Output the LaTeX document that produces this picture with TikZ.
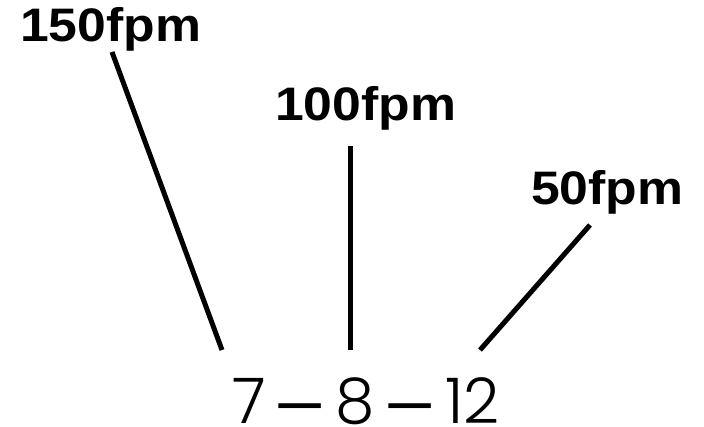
\documentclass[tikz,border=0pt]{standalone}
\usepackage{fontspec}
\setmainfont{Liberation Sans}
\newfontfamily\popfont{Poppins Light}
\newcommand{\wdash}{\raisebox{-13pt}{\scalebox{1.3}[1.3]{–}}}
\tikzset{
  lbl/.style={inner sep=0pt, anchor=base west, font=\bfseries\fontsize{47}{50}\selectfont},
  nums/.style={inner sep=0pt, anchor=base, font=\popfont\fontsize{63}{70}\selectfont},
  lead/.style={line width=5pt}
}
\begin{document}
\begin{tikzpicture}[x=1pt,y=-1pt]
\useasboundingbox (0,0) rectangle (704,426);
\node[lbl] (l150) at (20,41) {\scalebox{1.1}[1]{150fpm}};
\node[lbl] (l100) at (275,120) {\scalebox{1.1}[1]{100fpm}};
\node[lbl] (l50) at (531,204) {\scalebox{1.1}[1]{50fpm}};
\node[nums] (n) at (366,423) {7\hspace{8pt}\wdash\hspace{9pt}8\hspace{8pt}\wdash\hspace{9pt}12};
\coordinate (a1) at (112,52);
\coordinate (a2) at (222,350);
\coordinate (b1) at (350,146);
\coordinate (b2) at (350,350);
\coordinate (c1) at (590,225);
\coordinate (c2) at (480,350);
\draw[lead] (a1) -- (a2);
\draw[lead] (b1) -- (b2);
\draw[lead] (c1) -- (c2);
\end{tikzpicture}
\end{document}
